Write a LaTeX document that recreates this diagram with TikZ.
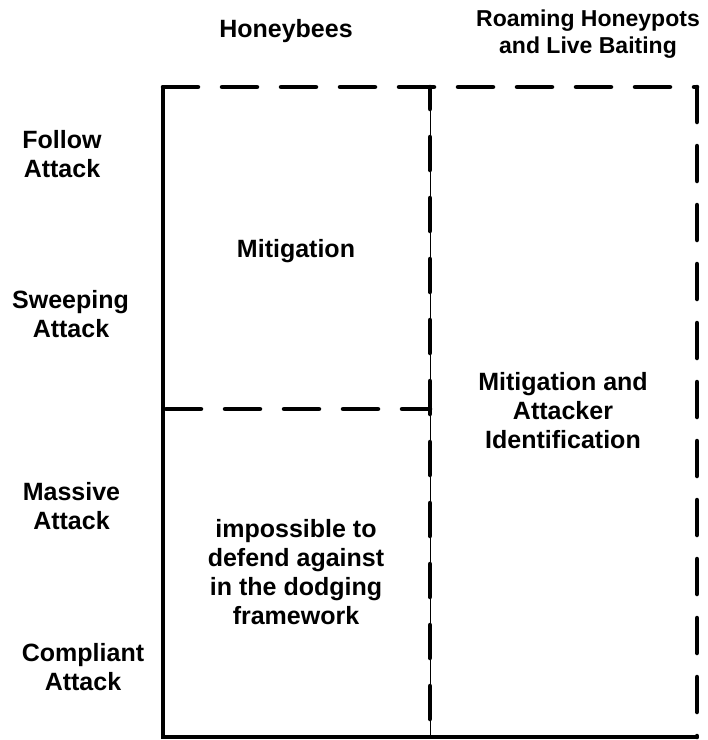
\documentclass[tikz,border=0pt]{standalone}
\usepackage{fontspec}
\setmainfont{Liberation Sans}
\begin{document}
\begin{tikzpicture}[x=1pt,y=-1pt,
  lbl/.style={font=\fontsize{25}{29}\selectfont\bfseries, inner sep=0pt, anchor=base},
  headsmall/.style={lbl, font=\fontsize{23}{27}\selectfont\bfseries},
  solidedge/.style={line width=4pt, line cap=round},
  dashedge/.style={line width=4.5pt, line cap=round, dash pattern=on 35pt off 24pt},
  middash/.style={line width=4.5pt, line cap=round, dash pattern=on 33pt off 28pt, dash phase=11pt},
  thinline/.style={line width=0.9pt}]
\useasboundingbox (0,0) rectangle (708,740);

% frame corners and junctions
\coordinate (tl) at (163,87);
\coordinate (tr) at (697,87);
\coordinate (bl) at (163,737);
\coordinate (br) at (697,737);
\coordinate (tm) at (430,87);
\coordinate (bm) at (430,737);
\coordinate (ml) at (163,409);
\coordinate (mm) at (430,409);

% outer frame
\draw[solidedge] (tl) -- (bl) -- (br);
\draw[dashedge] (tl) -- (tr);
\draw[dashedge] (tr) -- (br);

% column divider: hairline with heavy dashes on top
\draw[thinline] (tm) -- (bm);
\draw[middash] (tm) -- (bm);

% row divider in the left column
\draw[dashedge, dash phase=56pt] (ml) -- (mm);

% column headings
\node[lbl] (hb) at (286,37) {Honeybees};
\node[headsmall] (rh1) at (588,26) {Roaming Honeypots};
\node[headsmall] (rh2) at (588,53) {and Live Baiting};

% row headings
\node[lbl] (fa1) at (62,148) {Follow};
\node[lbl] (fa2) at (62,177) {Attack};
\node[lbl] (sa1) at (70.5,308) {Sweeping};
\node[lbl] (sa2) at (71,337) {Attack};
\node[lbl] (ma1) at (71.5,500) {Massive};
\node[lbl] (ma2) at (71.5,529) {Attack};
\node[lbl] (ca1) at (83,661) {Compliant};
\node[lbl] (ca2) at (83,690) {Attack};

% cell contents
\node[lbl] (mit) at (296,257) {Mitigation};
\node[lbl] (ai1) at (563,390) {Mitigation and};
\node[lbl] (ai2) at (563,419) {Attacker};
\node[lbl] (ai3) at (563,448) {Identification};
\node[lbl] (im1) at (296,537) {impossible to};
\node[lbl] (im2) at (296,566) {defend against};
\node[lbl] (im3) at (296,595) {in the dodging};
\node[lbl] (im4) at (296,624) {framework};
\end{tikzpicture}
\end{document}
